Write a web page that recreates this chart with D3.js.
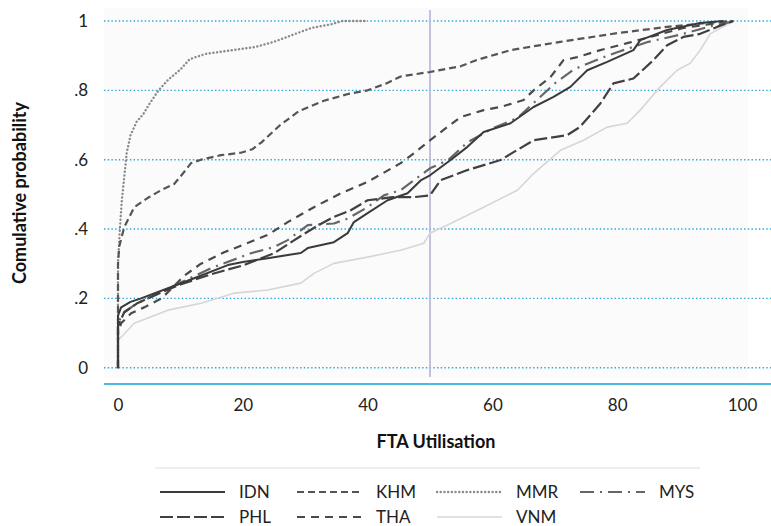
<!DOCTYPE html>
<html><head><meta charset="utf-8">
<script src="https://cdn.jsdelivr.net/npm/d3@7"></script>
<style>body{margin:0;background:#fff}svg{display:block}text{font-family:Lato,"Open Sans",sans-serif}</style>
</head><body><svg id="c" width="771" height="526"></svg>
<script>
const seriesNames = ["IDN","KHM","MMR","MYS","PHL","THA","VNM"];
const xTicks = [0,20,40,60,80,100];
const yTicks = [0,0.2,0.4,0.6,0.8,1];
const yTickLabels = ["0",".2",".4",".6",".8","1"];
const IDN = [[0,0],[0,0.15],[0.5,0.174],[2,0.19],[3.7,0.2],[8,0.229],[12.2,0.258],[17.6,0.296],[20,0.305],[24,0.316],[29.3,0.331],[30.4,0.345],[34.6,0.362],[36.8,0.388],[37.8,0.42],[40,0.446],[43.2,0.483],[46.4,0.503],[48.5,0.54],[50,0.555],[53.3,0.599],[56,0.637],[58.6,0.68],[62.9,0.705],[66.6,0.752],[69.8,0.781],[72.5,0.81],[75.2,0.858],[78.4,0.882],[82.6,0.916],[83.7,0.945],[88,0.974],[93.3,0.994],[97,1]];
const KHM = [[0,0],[0,0.3],[0.2,0.35],[1,0.405],[2.6,0.463],[4.8,0.49],[6.9,0.512],[9,0.53],[10.4,0.56],[11.7,0.59],[13.3,0.6],[16.5,0.613],[19.7,0.62],[21.5,0.63],[23,0.65],[26,0.7],[29,0.74],[33,0.77],[37,0.79],[40,0.8],[43,0.82],[45.3,0.84],[50,0.853],[55,0.87],[57.6,0.888],[62.9,0.916],[70.9,0.94],[80,0.965],[88,0.983],[96,0.997],[98.6,1]];
const MMR = [[0,0],[0,0.3],[0.3,0.4],[0.6,0.48],[1,0.55],[1.4,0.62],[2,0.67],[3,0.71],[4,0.73],[5,0.76],[6.5,0.8],[8,0.83],[10,0.86],[11.5,0.89],[14,0.905],[18,0.915],[22,0.925],[25,0.94],[28,0.96],[31,0.98],[34,0.99],[36,1],[40,1]];
const MYS = [[0,0],[0,0.13],[1,0.16],[3,0.185],[6,0.21],[10,0.245],[14.9,0.287],[21.3,0.33],[25,0.348],[27.2,0.368],[30.4,0.411],[34.6,0.416],[36.8,0.43],[40,0.463],[42.6,0.497],[45.3,0.512],[50,0.575],[53,0.6],[56,0.65],[60,0.69],[64,0.72],[67,0.77],[70,0.82],[73,0.86],[77,0.89],[80,0.91],[85,0.94],[90,0.96],[95,0.985],[99,1]];
const PHL = [[0,0],[0,0.12],[1,0.16],[3,0.185],[6,0.21],[10,0.24],[15,0.27],[20,0.295],[25,0.33],[29.3,0.38],[32,0.41],[34.6,0.435],[37.3,0.454],[40,0.483],[44,0.492],[47.4,0.492],[50,0.497],[51.7,0.541],[56,0.57],[61.3,0.599],[66.6,0.656],[72,0.671],[74,0.694],[77.3,0.762],[79.4,0.82],[82.6,0.834],[85.8,0.887],[88,0.93],[90.6,0.954],[93.3,0.963],[96,0.983],[98.6,1]];
const THA = [[0,0],[0,0.1],[0.5,0.128],[2.1,0.157],[4.2,0.174],[7,0.2],[10.6,0.265],[13.3,0.3],[17,0.333],[18.6,0.344],[24,0.383],[27.2,0.42],[31.4,0.463],[35.7,0.503],[40,0.536],[45.3,0.59],[47.4,0.618],[50,0.656],[54.9,0.723],[58.6,0.743],[61.3,0.752],[65,0.772],[66.6,0.8],[69.3,0.838],[71.4,0.887],[73.6,0.896],[77.3,0.916],[81.6,0.936],[85.3,0.954],[90.6,0.98],[96,0.994],[98.6,1]];
const VNM = [[0,0],[0,0.08],[0.5,0.088],[2.6,0.128],[8,0.166],[13.3,0.186],[18.6,0.215],[24,0.224],[29.3,0.244],[31.4,0.272],[34.6,0.301],[40,0.319],[45.3,0.339],[49,0.359],[50,0.388],[53.3,0.416],[58.6,0.463],[64,0.512],[66.6,0.56],[70.9,0.627],[74.6,0.656],[78.4,0.694],[81.6,0.705],[83.7,0.743],[86.9,0.81],[89.6,0.858],[91.7,0.878],[93.3,0.916],[94.9,0.963],[98.6,1]];
const seriesData = {IDN,KHM,MMR,MYS,PHL,THA,VNM};
const refLine = 50;

const styles = {
  IDN:{c:"#3a3a3a",w:2,d:null},
  KHM:{c:"#555",w:2.2,d:"7,4"},
  MMR:{c:"#8a8a8a",w:2.4,d:"0.1,3.6",cap:"round"},
  MYS:{c:"#666",w:2.2,d:"14,6,2,6"},
  PHL:{c:"#404040",w:2.2,d:"13,4"},
  THA:{c:"#4a4a4a",w:2.2,d:"8,6"},
  VNM:{c:"#d6d6d6",w:1.6,d:null}
};

const svg = d3.select("#c");
const x = d3.scaleLinear().domain([0,100]).range([118,742]);
const y = d3.scaleLinear().domain([0,1]).range([367.7,21]);

svg.append("rect").attr("x",104).attr("y",8).attr("width",644).attr("height",370).attr("fill","#fbfbfb");

svg.append("g").selectAll("line").data(yTicks).join("line")
  .attr("x1",104).attr("x2",771).attr("y1",d=>y(d)).attr("y2",d=>y(d))
  .attr("stroke","#23a8d8").attr("stroke-width",1.4).attr("stroke-dasharray","1.4,2.3");

const yAxis = d3.axisLeft(y).tickValues(yTicks).tickFormat((d,i)=>yTickLabels[i]).tickSize(0).tickPadding(0);
const gy = svg.append("g").attr("transform","translate(88,0)").call(yAxis);
gy.select(".domain").remove();
gy.selectAll("text").attr("font-size",17).attr("fill","#222").attr("font-family","Lato");

svg.append("line").attr("x1",x(refLine)).attr("x2",x(refLine)).attr("y1",10).attr("y2",377)
  .attr("stroke","#b4b4d6").attr("stroke-width",1.6);

const line = d3.line().x(d=>x(d[0])).y(d=>y(d[1]));
const order = ["VNM","MMR","KHM","THA","MYS","PHL","IDN"];
svg.append("g").selectAll("path").data(order).join("path")
  .attr("d",n=>line(seriesData[n])).attr("fill","none")
  .attr("stroke",n=>styles[n].c).attr("stroke-width",n=>styles[n].w)
  .attr("stroke-dasharray",n=>styles[n].d).attr("stroke-linecap",n=>styles[n].cap||"butt")
  .attr("stroke-linejoin","round");

svg.append("line").attr("x1",104).attr("x2",771).attr("y1",384).attr("y2",384)
  .attr("stroke","#12a5d6").attr("stroke-width",1.6);
const xAxis = d3.axisBottom(x).tickValues(xTicks).tickSize(0).tickPadding(0);
const gx = svg.append("g").attr("transform","translate(0,399)").call(xAxis);
gx.select(".domain").remove();
gx.selectAll("text").attr("font-size",17).attr("fill","#222").attr("dy","0.71em").attr("font-family","Lato");

svg.append("text").attr("x",436).attr("y",448).attr("text-anchor","middle")
  .attr("font-size",18).attr("font-weight","bold").attr("fill","#111").text("FTA Utilisation");
svg.append("text").attr("transform","translate(26,193) rotate(-90)").attr("text-anchor","middle")
  .attr("font-size",18).attr("font-weight","bold").attr("fill","#111").text("Comulative probability");

svg.append("line").attr("x1",155).attr("x2",700).attr("y1",468).attr("y2",468).attr("stroke","#ddd");
const legPos = [[160,492],[297,492],[437,492],[580,492],[160,517],[297,517],[437,517]];
const lg = svg.append("g").selectAll("g").data(seriesNames).join("g")
  .attr("transform",(d,i)=>`translate(${legPos[i][0]},${legPos[i][1]})`);
lg.append("line").attr("x1",0).attr("x2",65).attr("y1",0).attr("y2",0)
  .attr("stroke",n=>styles[n].c).attr("stroke-width",n=>styles[n].w)
  .attr("stroke-dasharray",n=>styles[n].d).attr("stroke-linecap",n=>styles[n].cap||"butt");
lg.append("text").attr("x",79).attr("y",0).attr("dy","0.36em").attr("font-size",17).attr("fill","#222").text(d=>d);
</script></body></html>
